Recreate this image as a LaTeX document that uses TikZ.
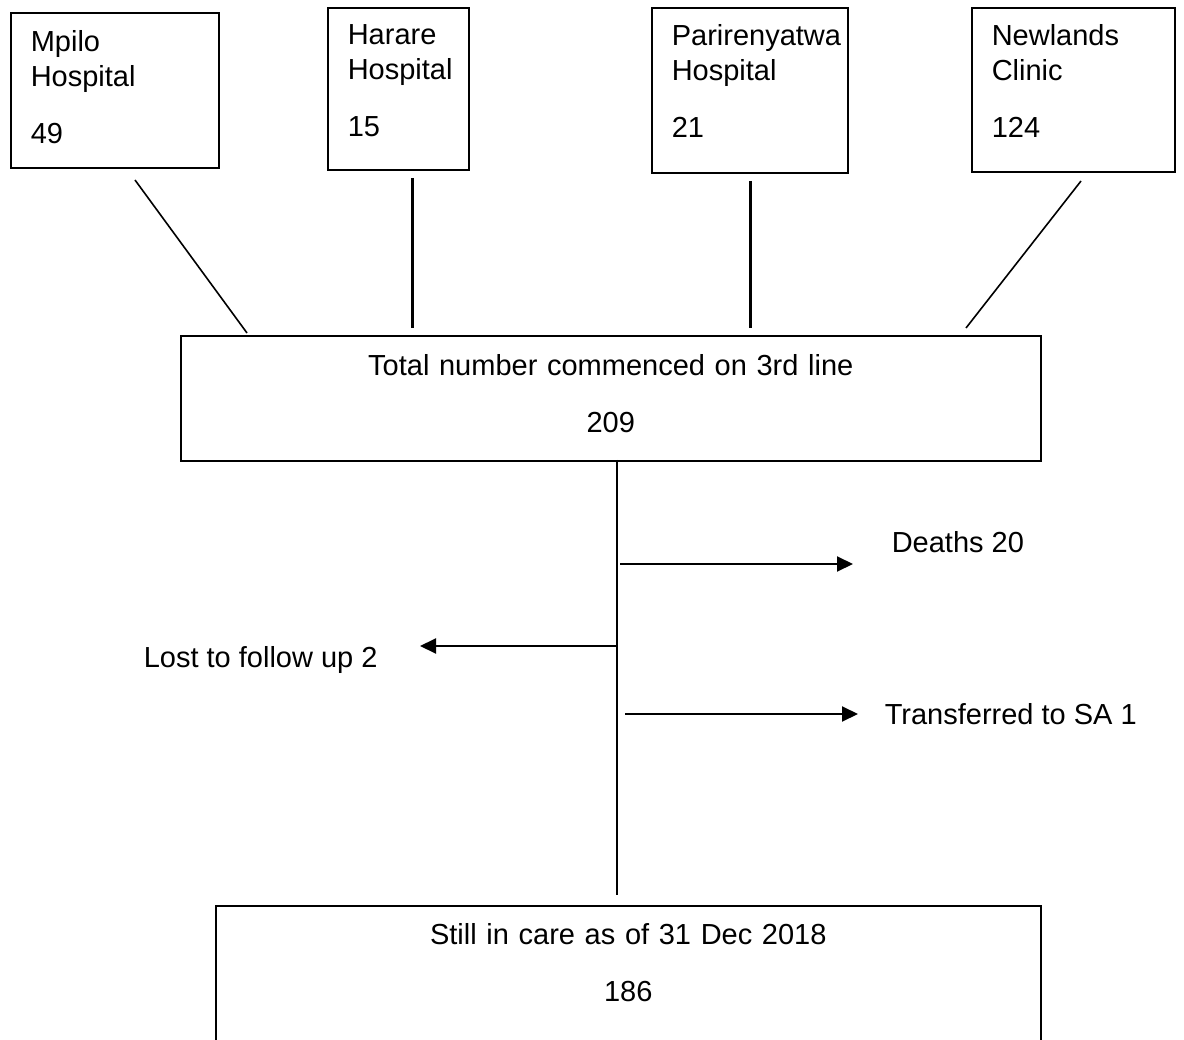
\documentclass[tikz,border=0pt]{standalone}
\usepackage{fontspec}
\setmainfont{Liberation Sans}
\usetikzlibrary{arrows.meta}
\newcommand\flowfont{\fontsize{29}{35}\selectfont}
\hyphenpenalty=10000
\begin{document}
\begin{tikzpicture}[x=1pt,y=-1pt,line width=1.6pt,
    site/.style={draw,anchor=north west,font=\flowfont,align=left,inner xsep=20pt,inner ysep=0pt},
    tot/.style={draw,anchor=north west,font=\flowfont,align=center,inner sep=0pt},
    outc/.style={font=\flowfont,anchor=base west,inner sep=0pt}]
    \useasboundingbox (0,0) rectangle (1184,1040);
    \clip (0,0) rectangle (1184,1040);
    % <<< the four sites
    \node[site,text width=168pt,minimum height=155pt,text depth=99pt] (M) at (10,12) {Mpilo\\Hospital\\[22pt]49};
    \node[site,text width=101pt,minimum height=162pt,text depth=108pt] (H) at (327,7) {Harare\\Hospital\\[22pt]15};
    \node[site,text width=156pt,minimum height=165pt,text depth=111pt] (P) at (651,7) {Parirenyatwa\\Hospital\\[22pt]21};
    \node[site,text width=163pt,minimum height=164pt,text depth=110pt] (N) at (971,7) {Newlands\\Clinic\\[22pt]124};
    % <<< totals
    \node[tot,text width=860pt,minimum height=125pt,text depth=67pt] (T) at (180,335) {Total number commenced on 3rd line\\[22pt]209};
    \node[tot,text width=825pt,minimum height=150pt,text depth=94pt] (C) at (215,905) {Still in care as of 31 Dec 2018\\[22pt]186};
    % <<< outcomes
    \node[outc] (D) at (891,552.4) {Deaths 20};
    \node[outc] (L) at (143,667.4) {Lost to follow up 2};
    \node[outc] (S) at (884,724.4) {Transferred to SA 1};
    \path
    (135,180) coordinate (m1) (247,333) coordinate (m2)
    (412,178) coordinate (h1) (412,328) coordinate (h2)
    (750,181) coordinate (p1) (750,328) coordinate (p2)
    (1081,181) coordinate (n1) (966,328) coordinate (n2)
    (617,460) coordinate (t1) (617,895) coordinate (t2)
    (620,564) coordinate (d1) (853,564) coordinate (d2)
    (617,646) coordinate (l1) (420,646) coordinate (l2)
    (625,714) coordinate (s1) (858,714) coordinate (s2);
    \draw (m1)--(m2);
    \draw[line width=3pt] (h1)--(h2);
    \draw[line width=3pt] (p1)--(p2);
    \draw (n1)--(n2);
    \draw (t1)--(t2);
    \begin{scope}[line width=2pt,-{Triangle[length=16pt,width=15pt]}]
        \draw (d1)--(d2);
        \draw (l1)--(l2);
        \draw (s1)--(s2);
    \end{scope}
\end{tikzpicture}
\end{document}
